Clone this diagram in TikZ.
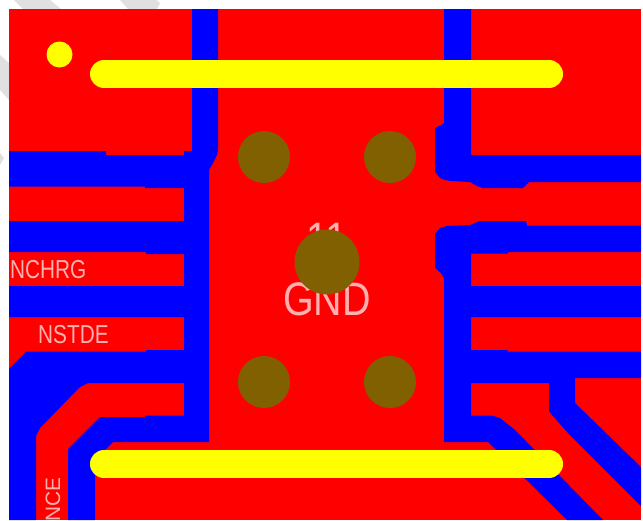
\documentclass[tikz,border=0pt]{standalone}
\usepackage{fontspec}
\setmainfont{Liberation Sans}
\usepackage{tikz}

\definecolor{copper}{RGB}{255,0,0}
\definecolor{clearance}{RGB}{0,0,255}
\definecolor{viahole}{RGB}{128,96,0}
\definecolor{silk}{RGB}{255,255,0}
\definecolor{pinlabel}{RGB}{255,176,176}
\definecolor{stripe}{RGB}{224,224,224}

\tikzset{
    pinname/.style={text=pinlabel, inner sep=0pt, xscale=.8, font=\fontsize{26}{26}\selectfont},
    padname/.style={text=pinlabel, inner sep=0pt, xscale=.84, font=\fontsize{47}{47}\selectfont},
    silkbar/.style={silk, line width=28pt, line cap=round}
}

\begin{document}
\begin{tikzpicture}[x=1pt,y=-1pt]
    \useasboundingbox (0,0) rectangle (643,520);
    \begin{scope}
    \clip (0,0) rectangle (643,520);

    % stripes behind the board
    \fill[stripe] (14,0) -- (50,0) -- (61,9) -- (23,9) -- cycle;
    \fill[stripe] (120,0) -- (157,0) -- (160,3) -- (157,9) -- (128,9) -- cycle;
    \fill[stripe] (0,55) -- (9,63) -- (9,100) -- (0,90) -- cycle;
    \fill[stripe] (0,153) -- (4,158) -- (0,165) -- cycle;

    \fill[copper] (9,9) rectangle (641,520);

    % left clearance
    \fill[clearance] (192,9) -- (218,9) -- (218,150) -- (217,155) -- (213,163) -- (209,170)
        -- (209,442) -- (113,442) -- (95,460) -- (95,520) -- (68,520) -- (68,449) -- (100,417)
        -- (145,417) -- (145,415.6) -- (184,415.6) -- (184,383) -- (88,383) -- (80,387)
        -- (40,428) -- (36,436) -- (36,520) -- (9,520) -- (9,369) -- (26,351.7) -- (146,351.7)
        -- (146,350) -- (184,350) -- (184,317) -- (9,317) -- (9,286) -- (184,286) -- (184,254)
        -- (146,254) -- (146,252) -- (9,252) -- (9,221) -- (184,221) -- (184,188) -- (145,188)
        -- (145,186.5) -- (9,186.5) -- (9,151) -- (106,151) -- (106,155) -- (184,155)
        -- (184,151) -- (192,151) -- cycle;

    % right clearance
    \fill[clearance] (444,9) -- (471,9) -- (471,155) -- (641,155) -- (641,182) -- (529,182)
        -- (523,188) -- (483,188) -- (477,186) -- (470,182) -- (451,181) -- (445,180)
        -- (440,178) -- (435,172) -- (435,128) -- (441,125) -- (444,123) -- cycle;
    \fill[clearance] (435,234) -- (440,228) -- (447,226) -- (470,225) -- (480,221) -- (526,221)
        -- (527,225.6) -- (641,225.6) -- (641,252) -- (508,252) -- (508,253.5) -- (471,253.5)
        -- (471,286) -- (641,286) -- (641,317) -- (471,317) -- (471,350) -- (508,350)
        -- (508,351.7) -- (641,351.7) -- (641,378) -- (575,378) -- (575,403) -- (641,467)
        -- (641,506) -- (568,433) -- (552,415) -- (549,411) -- (549,383) -- (471,383)
        -- (471,415.6) -- (492,415.6) -- (500,418) -- (515,430) -- (603,520) -- (567,520)
        -- (488,442) -- (444,442) -- (444,278) -- (441,273) -- (435,268) -- cycle;

    \node[pinname, anchor=west] (nchrg) at (10,270) {NCHRG};
    \node[pinname, anchor=west] (nstde) at (38,335) {NSTDE};
    \node[pinname, anchor=east, rotate=90, xscale=.8] (nce) at (53,477) {NCE};
    \node[padname] (padgnd) at (327,299) {GND};
    \node[padname] (padnum) at (327,239) {11};

    % vias
    \foreach \x/\y in {264/157,390/157,264/382,390/382}
    {
        \fill[viahole] (\x,\y) circle (26);
    }
    \fill[viahole] (327,262) circle (32.5);

    \draw[silkbar] (104,74) -- (549,74);
    \draw[silkbar] (104,464) -- (549,464);
    \fill[silk] (59.5,54.5) circle (13);
    \end{scope}
\end{tikzpicture}
\end{document}
